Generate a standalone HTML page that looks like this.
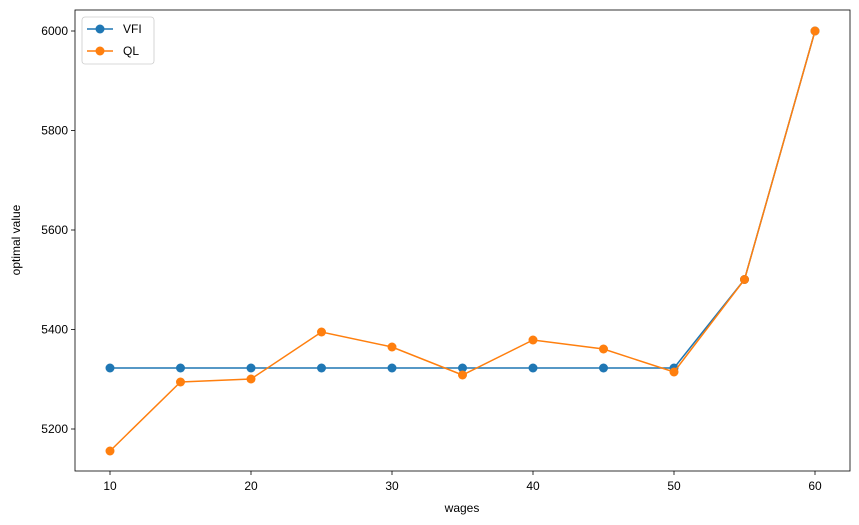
<!DOCTYPE html>
<html><head><meta charset="utf-8"><style>body{margin:0;background:#fff}svg{display:block;font-family:"Liberation Sans",sans-serif}</style></head><body>
<svg width="859" height="525" viewBox="0 0 859 525">
<rect x="75" y="10" width="775" height="461" fill="none" stroke="#000" stroke-width="0.8"/>
<g stroke="#000" stroke-width="0.8">
<line x1="110" y1="471" x2="110" y2="475"/><line x1="251" y1="471" x2="251" y2="475"/><line x1="392" y1="471" x2="392" y2="475"/><line x1="533" y1="471" x2="533" y2="475"/><line x1="674" y1="471" x2="674" y2="475"/><line x1="815" y1="471" x2="815" y2="475"/>
<line x1="71" y1="31" x2="75" y2="31"/><line x1="71" y1="130.5" x2="75" y2="130.5"/><line x1="71" y1="230" x2="75" y2="230"/><line x1="71" y1="329.5" x2="75" y2="329.5"/><line x1="71" y1="429" x2="75" y2="429"/>
</g>
<g font-size="12" fill="#000" text-anchor="middle">
<text x="110" y="490">10</text><text x="251" y="490">20</text><text x="392" y="490">30</text><text x="533" y="490">40</text><text x="674" y="490">50</text><text x="815" y="490">60</text>
<text x="462" y="512">wages</text>
</g>
<g font-size="12" fill="#000" text-anchor="end">
<text x="68" y="35">6000</text><text x="68" y="134.5">5800</text><text x="68" y="234">5600</text><text x="68" y="333.5">5400</text><text x="68" y="433">5200</text>
</g>
<text x="20" y="240" font-size="12" text-anchor="middle" transform="rotate(-90 20 240)">optimal value</text>
<g fill="#1f77b4">
<polyline fill="none" stroke="#1f77b4" stroke-width="1.5" points="110,368 180.5,368 251,368 321.5,368 392,368 462.5,368 533,368 603.5,368 674,368 744.5,279.5 815,31"/>
<circle cx="110" cy="368" r="4.5"/><circle cx="180.5" cy="368" r="4.5"/><circle cx="251" cy="368" r="4.5"/><circle cx="321.5" cy="368" r="4.5"/><circle cx="392" cy="368" r="4.5"/><circle cx="462.5" cy="368" r="4.5"/><circle cx="533" cy="368" r="4.5"/><circle cx="603.5" cy="368" r="4.5"/><circle cx="674" cy="368" r="4.5"/><circle cx="744.5" cy="279.5" r="4.5"/><circle cx="815" cy="31" r="4.5"/>
</g>
<g fill="#ff7f0e">
<polyline fill="none" stroke="#ff7f0e" stroke-width="1.5" points="110,451 180.5,382 251,379 321.5,332 392,347 462.5,375 533,340 603.5,349 674,372 744.5,279.5 815,31"/>
<circle cx="110" cy="451" r="4.5"/><circle cx="180.5" cy="382" r="4.5"/><circle cx="251" cy="379" r="4.5"/><circle cx="321.5" cy="332" r="4.5"/><circle cx="392" cy="347" r="4.5"/><circle cx="462.5" cy="375" r="4.5"/><circle cx="533" cy="340" r="4.5"/><circle cx="603.5" cy="349" r="4.5"/><circle cx="674" cy="372" r="4.5"/><circle cx="744.5" cy="279.5" r="4.5"/><circle cx="815" cy="31" r="4.5"/>
</g>
<rect x="82" y="17" width="72" height="47" rx="3" fill="#fff" stroke="#ccc" stroke-width="0.8"/>
<line x1="87" y1="29" x2="113" y2="29" stroke="#1f77b4" stroke-width="1.5"/><circle cx="100" cy="29" r="4.5" fill="#1f77b4"/>
<line x1="87" y1="51" x2="113" y2="51" stroke="#ff7f0e" stroke-width="1.5"/><circle cx="100" cy="51" r="4.5" fill="#ff7f0e"/>
<text x="123" y="33" font-size="12">VFI</text><text x="123" y="55" font-size="12">QL</text>
</svg>
</body></html>
